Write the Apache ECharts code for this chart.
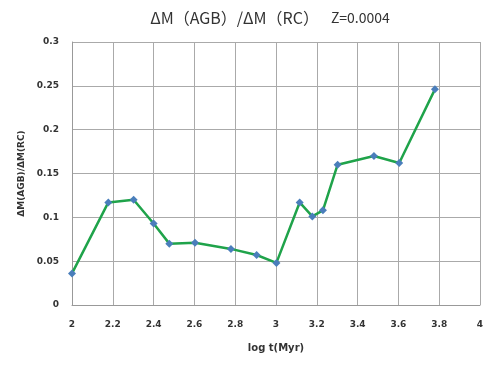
<!DOCTYPE html>
<html><head><meta charset="utf-8">
<script src="https://cdn.jsdelivr.net/npm/echarts@6/dist/echarts.min.js"></script>
<style>html,body{margin:0;padding:0;background:#fff}#c{width:500px;height:368px}</style>
</head><body><div id="c"></div>
<script>
const logT = [2.0, 2.178, 2.302, 2.40, 2.477, 2.603, 2.779, 2.905, 3.002, 3.116, 3.178, 3.230, 3.302, 3.480, 3.604, 3.779];
const ratio = [0.036, 0.117, 0.120, 0.093, 0.070, 0.071, 0.064, 0.057, 0.048, 0.117, 0.101, 0.108, 0.160, 0.170, 0.162, 0.246];
const titleMain = 'ΔM（AGB）/ΔM（RC）';
const titleZ = 'Z=0.0004';
const xName = 'log t(Myr)';
const yName = 'ΔM(AGB)/ΔM(RC)';

const chart = echarts.init(document.getElementById('c'), null, {renderer: 'canvas'});
const lblFont = {fontFamily: 'DejaVu Sans', fontWeight: 'bold', fontSize: 9, color: '#333'};
chart.setOption({
  animation: false,
  title: {text: '{a|' + titleMain + '}{z|' + titleZ + '}', left: 265, top: 5, textAlign: 'center',
    textStyle: {fontWeight: 'normal', rich: {
      a: {fontFamily: 'Noto Sans CJK JP', fontWeight: 'normal', fontSize: 16, color: '#333'},
      z: {fontFamily: 'Noto Sans CJK JP', fontWeight: 'normal', fontSize: 14, color: '#333', padding: [0, 0, 0, 12]}
    }}},
  grid: {left: 72, right: 20, top: 42, bottom: 63},
  xAxis: {type: 'value', min: 2, max: 4, interval: 0.2,
    name: xName, nameLocation: 'middle', nameGap: 38,
    nameTextStyle: {fontFamily: 'DejaVu Sans', fontWeight: 'bold', fontSize: 10, color: '#333'},
    axisLine: {show: true, lineStyle: {color: '#999', width: 1}},
    axisTick: {show: false},
    axisLabel: Object.assign({margin: 15, formatter: v => String(+v.toFixed(1))}, lblFont),
    splitLine: {show: true, lineStyle: {color: '#aaa', width: 1}}},
  yAxis: {type: 'value', min: 0, max: 0.3, interval: 0.05,
    name: yName, nameLocation: 'middle', nameGap: 42,
    nameTextStyle: {fontFamily: 'DejaVu Sans', fontWeight: 'bold', fontSize: 9, color: '#333'},
    axisLine: {show: true, lineStyle: {color: '#999', width: 1}},
    axisTick: {show: false},
    axisLabel: Object.assign({margin: 13, formatter: v => String(+v.toFixed(2))}, lblFont),
    splitLine: {show: true, lineStyle: {color: '#aaa', width: 1}}},
  series: [{type: 'line', data: logT.map((x, i) => [x, ratio[i]]),
    lineStyle: {color: '#1fa34a', width: 2.5},
    symbol: 'diamond', symbolSize: 8,
    itemStyle: {color: '#4a7ebb', borderWidth: 0}}]
});
</script></body></html>
